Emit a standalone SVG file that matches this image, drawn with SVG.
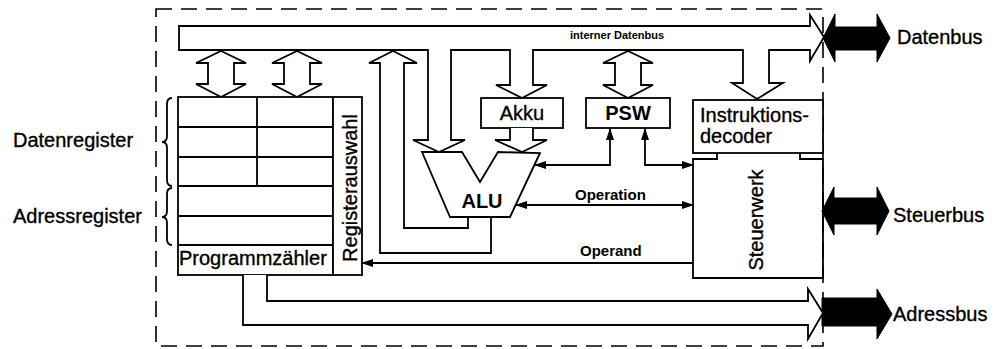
<svg xmlns="http://www.w3.org/2000/svg" width="995" height="349" viewBox="0 0 995 349">
<style>
.ln{fill:none;stroke:#000;stroke-width:1.8;stroke-linejoin:miter}
.bx{fill:#fff;stroke:#000;stroke-width:1.8}
.hollow{fill:#fff;stroke:#000;stroke-width:1.8;stroke-linejoin:miter}
.blk{fill:#000;stroke:#000;stroke-width:1}
.t{font-family:"Liberation Sans",Arial,sans-serif;font-size:20px;fill:#000;stroke:#000;stroke-width:0.35}
.b{font-weight:bold;stroke-width:0}
.s15{font-size:15px}
.dash{fill:none;stroke:#000;stroke-width:1.6;stroke-dasharray:16 9}
</style>
<defs>
<marker id="ah" viewBox="0 0 12 8" refX="11" refY="4" markerWidth="12" markerHeight="8" markerUnits="userSpaceOnUse" orient="auto-start-reverse">
<path d="M0,0 L12,4 L0,8 z" fill="#000"/>
</marker>
</defs>
<rect width="995" height="349" fill="#fff"/>

<g id="border">
<rect class="dash" x="156" y="9" width="667" height="337"/>
</g>

<g id="internal-bus">
<path class="hollow" d="M179,26 H810 V15 L824,37 L810,61 V50 H769 V83 H783 L757,99 L732,83 H743 V50 H533 V85 H547 L522,98 L496,85 H510 V50 H451 V140 H465 L439,152 L413,140 H428 V50 H179 Z"/>
<text class="t b" x="570" y="39" style="font-size:11px">interner Datenbus</text>
</g>

<g id="register-arrows">
<polygon class="hollow" points="221,51 246,63 234,63 234,84 246,84 221,97 196,84 208,84 208,63 196,63"/>
<polygon class="hollow" points="297,51 322,63 310,63 310,84 322,84 297,97 272,84 284,84 284,63 272,63"/>
<polygon class="hollow" points="628,51 653,63 641,63 641,85 653,85 628,98 603,85 615,85 615,63 603,63"/>
</g>

<g id="registers">
<rect class="bx" x="178" y="97" width="155" height="178"/>
<path class="ln" d="M178,127 H333 M178,157 H333 M178,186 H333 M178,216 H333 M178,245 H333 M257,97 V186"/>
<text class="t" x="179" y="265">Programmzähler</text>
</g>

<g id="registerauswahl">
<rect class="bx" x="333" y="97" width="29" height="178"/>
<text class="t" transform="translate(357,188) rotate(-90)" text-anchor="middle">Registerauswahl</text>
</g>

<g id="braces">
<path class="ln" stroke-width="1.3" d="M172,98 Q167,98 167,104 V136 Q167,142 162,142 Q167,142 167,148 V180 Q167,186 172,186"/>
<path class="ln" stroke-width="1.3" d="M172,188 Q167,188 167,194 V211 Q167,217 162,217 Q167,217 167,223 V239 Q167,245 172,245"/>
<text class="t" x="13" y="147">Datenregister</text>
<text class="t" x="13" y="223">Adressregister</text>
</g>

<g id="akku">
<rect class="bx" x="481" y="98" width="82" height="30"/>
<text class="t" x="522" y="120" text-anchor="middle">Akku</text>
</g>

<g id="psw">
<rect class="bx" x="586" y="98" width="84" height="30"/>
<text class="t b" x="628" y="120" text-anchor="middle">PSW</text>
</g>

<g id="alu">
<polygon class="hollow" points="422,152 462,152 480,182 498,152 540,153 510,217 450,217"/>
<text class="t b" x="482" y="208" text-anchor="middle">ALU</text>
</g>

<g id="decoder">
<rect class="bx" x="693" y="100" width="130" height="53"/>
<text class="t" x="700" y="122">Instruktions-</text>
<text class="t" x="700" y="143">decoder</text>
</g>

<g id="steuerwerk">
<path class="ln" d="M717,153 V159 H693 V278 H823 V159 H800 V153"/>
<text class="t" transform="translate(763,220) rotate(-90)" text-anchor="middle">Steuerwerk</text>
</g>

<g id="datenbus">
<polygon class="blk" points="823,38 835,14 835,27 877,27 877,14 890,38 877,62 877,50 835,50 835,62"/>
<text class="t" x="897" y="44">Datenbus</text>
</g>

<g id="steuerbus">
<polygon class="blk" points="822,211 834,187 834,198 877,198 877,187 889,211 877,235 877,224 834,224 834,235"/>
<text class="t" x="893" y="222">Steuerbus</text>
</g>

<g id="adressbus">
<polygon class="blk" points="822,298 877,298 877,289 892,314 877,339 877,326 822,326"/>
<text class="t" x="893" y="321">Adressbus</text>
</g>

<g id="connectors">
<path class="ln" d="M468,217 V228 H404 V63 H417 L393,51 L369,63 H380 V253 H491 V217"/>
<path class="hollow" d="M510,128 V140 H495 L522,152 L547,140 H533 V128"/>
<path class="hollow" d="M243,275 V325 H808 V339 L823,313 L808,289 V301 H267 V275"/>
<path class="ln" d="M610,129 V165 H535" marker-start="url(#ah)" marker-end="url(#ah)"/>
<path class="ln" d="M645,129 V165 H693" marker-start="url(#ah)" marker-end="url(#ah)"/>
<path class="ln" d="M516,205 H693" marker-start="url(#ah)" marker-end="url(#ah)"/>
<path class="ln" d="M693,263 H362" marker-end="url(#ah)"/>
<text class="t b s15" x="575" y="200">Operation</text>
<text class="t b s15" x="580" y="256">Operand</text>
</g>
</svg>
